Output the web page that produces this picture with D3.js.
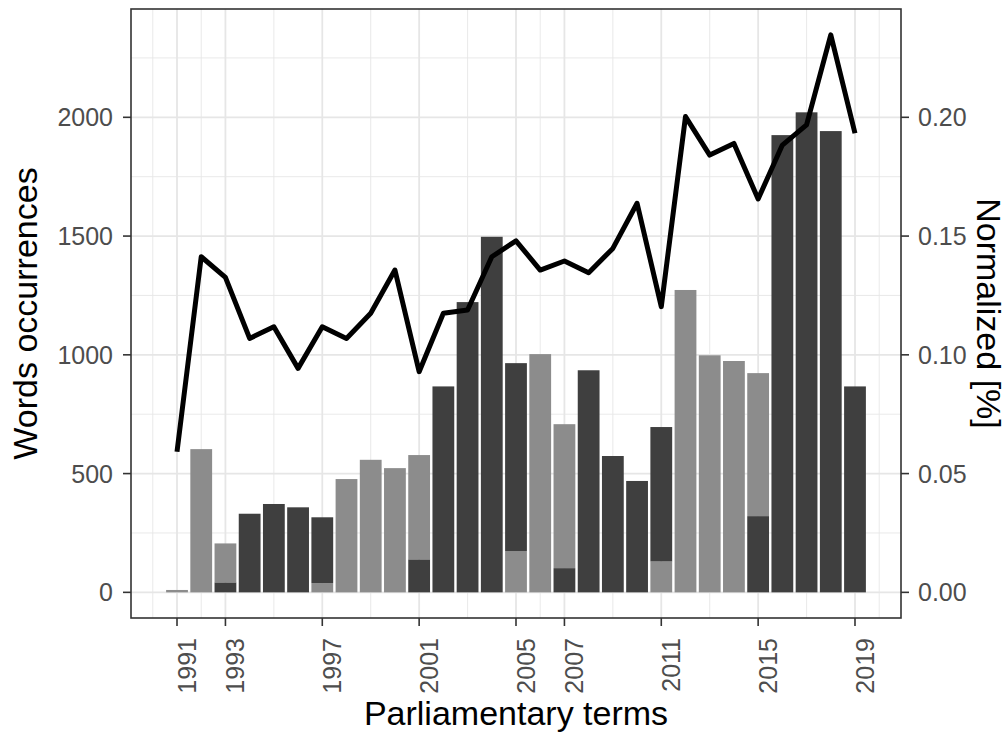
<!DOCTYPE html>
<html>
<head>
<meta charset="utf-8">
<script src="https://cdn.jsdelivr.net/npm/d3@7"></script>
<style>
  html, body { margin: 0; padding: 0; background: #ffffff; }
  svg { display: block; }
  text { font-family: "Liberation Sans", Arial, sans-serif; }
</style>
</head>
<body>
<svg id="chart" width="1007" height="738"></svg>
<script>
// ---- data ----
const years = [1991,1992,1993,1994,1995,1996,1997,1998,1999,2000,2001,2002,2003,2004,2005,2006,2007,2008,2009,2010,2011,2012,2013,2014,2015,2016,2017,2018,2019];
const darkCounts  = [0,0,42,331,372,358,277,0,0,0,139,867,1222,1497,791,0,102,935,574,469,566,0,0,0,321,1925,2021,1942,867];
const lightCounts = [10,603,164,0,0,0,39,477,558,523,439,0,0,0,174,1003,606,0,0,0,130,1273,998,974,602,0,0,0,0];
// which shade sits at the bottom of the stack
const bottomShade = ["light","light","dark","dark","dark","dark","light","light","light","light","dark","dark","dark","dark","light","light","dark","dark","dark","dark","light","light","light","light","dark","dark","dark","dark","dark"];
const normalized = [0.0592,0.1413,0.1326,0.1069,0.1118,0.0943,0.1118,0.1069,0.1175,0.1357,0.0929,0.1175,0.1189,0.1413,0.1480,0.1357,0.1395,0.1346,0.1448,0.1638,0.1203,0.2003,0.1841,0.1890,0.1656,0.1883,0.1968,0.2347,0.1933];
const xTickYears = [1991,1993,1997,2001,2005,2007,2011,2015,2019];
const xMinorYears = [1990,1992,1995,1999,2003,2006,2009,2013,2017,2020];
const yTicks = [0,500,1000,1500,2000];
const yMinorTicks = [250,750,1250,1750,2250];
const yRightTicks = [0,0.05,0.10,0.15,0.20];
const xTitle = "Parliamentary terms";
const yTitle = "Words occurrences";
const yRightTitle = "Normalized [%]";

// ---- layout ----
const panel = {left: 131, right: 901, top: 9, bottom: 618};
const colors = {dark: "#3f3f3f", light: "#8c8c8c"};

const svg = d3.select("#chart");
const x = d3.scaleLinear().domain([1989.1, 2020.9]).range([panel.left, panel.right]);
const y = d3.scaleLinear().domain([-108, 2456]).range([panel.bottom, panel.top]);
const yR = d3.scaleLinear().domain([-0.0108, 0.2456]).range([panel.bottom, panel.top]);

// panel background
svg.append("rect").attr("x", panel.left).attr("y", panel.top)
  .attr("width", panel.right - panel.left).attr("height", panel.bottom - panel.top)
  .attr("fill", "#ffffff");

const grid = svg.append("g");
const gridColor = "#e6e6e6";
// minor grid
grid.selectAll(".vminor").data(xMinorYears).join("line")
  .attr("x1", d => x(d)).attr("x2", d => x(d)).attr("y1", panel.top).attr("y2", panel.bottom)
  .attr("stroke", gridColor).attr("stroke-width", 0.9);
grid.selectAll(".hminor").data(yMinorTicks).join("line")
  .attr("y1", d => y(d)).attr("y2", d => y(d)).attr("x1", panel.left).attr("x2", panel.right)
  .attr("stroke", gridColor).attr("stroke-width", 0.9);
// major grid
grid.selectAll(".vmajor").data(xTickYears).join("line")
  .attr("x1", d => x(d)).attr("x2", d => x(d)).attr("y1", panel.top).attr("y2", panel.bottom)
  .attr("stroke", gridColor).attr("stroke-width", 1.8);
grid.selectAll(".hmajor").data(yTicks).join("line")
  .attr("y1", d => y(d)).attr("y2", d => y(d)).attr("x1", panel.left).attr("x2", panel.right)
  .attr("stroke", gridColor).attr("stroke-width", 1.8);

// ---- bars ----
const barW = x(1990.9) - x(1990);
const segs = [];
years.forEach((yr, i) => {
  const b = bottomShade[i];
  const t = b === "dark" ? "light" : "dark";
  const val = s => s === "dark" ? darkCounts[i] : lightCounts[i];
  const bv = val(b), tv = val(t);
  if (bv > 0) segs.push({year: yr, y0: 0, y1: bv, shade: b});
  if (tv > 0) segs.push({year: yr, y0: bv, y1: bv + tv, shade: t});
});
svg.append("g").selectAll("rect").data(segs).join("rect")
  .attr("x", d => x(d.year) - barW / 2)
  .attr("width", barW)
  .attr("y", d => y(d.y1))
  .attr("height", d => y(d.y0) - y(d.y1))
  .attr("fill", d => colors[d.shade]);

// ---- line ----
const line = d3.line().x((d, i) => x(years[i])).y(d => yR(d));
svg.append("path").datum(normalized)
  .attr("d", line).attr("fill", "none").attr("stroke", "#000000")
  .attr("stroke-width", 5).attr("stroke-linejoin", "round");

// ---- panel border ----
svg.append("rect").attr("x", panel.left).attr("y", panel.top)
  .attr("width", panel.right - panel.left).attr("height", panel.bottom - panel.top)
  .attr("fill", "none").attr("stroke", "#333333").attr("stroke-width", 1.6);

// ---- axes ----
const tickColor = "#333333";
const labColor = "#4d4d4d";
const fs = 25;

// left axis
const gL = svg.append("g");
gL.selectAll("line").data(yTicks).join("line")
  .attr("x1", panel.left - 8).attr("x2", panel.left).attr("y1", d => y(d)).attr("y2", d => y(d))
  .attr("stroke", tickColor).attr("stroke-width", 1.6);
gL.selectAll("text").data(yTicks).join("text")
  .attr("x", panel.left - 18).attr("y", d => y(d)).attr("dy", "0.36em")
  .attr("text-anchor", "end").attr("font-size", fs).attr("fill", labColor)
  .text(d => d3.format("d")(d));

// right axis
const gR = svg.append("g");
gR.selectAll("line").data(yRightTicks).join("line")
  .attr("x1", panel.right).attr("x2", panel.right + 8).attr("y1", d => yR(d)).attr("y2", d => yR(d))
  .attr("stroke", tickColor).attr("stroke-width", 1.6);
gR.selectAll("text").data(yRightTicks).join("text")
  .attr("x", panel.right + 17).attr("y", d => yR(d)).attr("dy", "0.36em")
  .attr("text-anchor", "start").attr("font-size", fs).attr("fill", labColor)
  .text(d => d3.format(".2f")(d));

// bottom axis
const gB = svg.append("g");
gB.selectAll("line").data(xTickYears).join("line")
  .attr("x1", d => x(d)).attr("x2", d => x(d)).attr("y1", panel.bottom).attr("y2", panel.bottom + 8)
  .attr("stroke", tickColor).attr("stroke-width", 1.6);
gB.selectAll("text").data(xTickYears).join("text")
  .attr("transform", d => `translate(${x(d) + 19},${panel.bottom + 20}) rotate(-90)`)
  .attr("text-anchor", "end").attr("font-size", fs).attr("fill", labColor)
  .text(d => d);

// titles
const tfs = 34;
svg.append("text")
  .attr("x", (panel.left + panel.right) / 2).attr("y", 725)
  .attr("text-anchor", "middle").attr("font-size", tfs).attr("fill", "#000")
  .text(xTitle);
svg.append("text")
  .attr("transform", `translate(37,${(panel.top + panel.bottom) / 2}) rotate(-90)`)
  .attr("text-anchor", "middle").attr("font-size", tfs).attr("fill", "#000")
  .text(yTitle);
svg.append("text")
  .attr("transform", `translate(977,${(panel.top + panel.bottom) / 2}) rotate(90)`)
  .attr("text-anchor", "middle").attr("font-size", tfs).attr("fill", "#000")
  .text(yRightTitle);
</script>
</body>
</html>
